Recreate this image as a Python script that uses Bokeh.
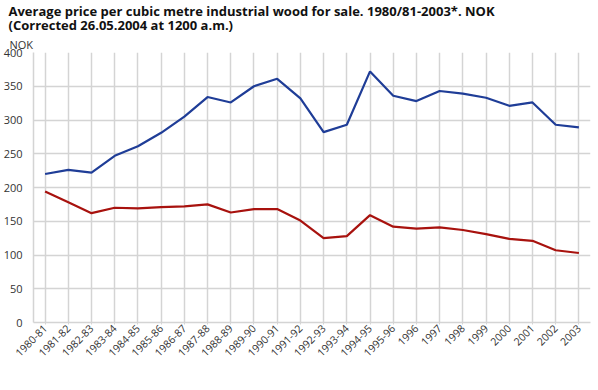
import math
from bokeh.plotting import figure
from bokeh.models import (Legend, LegendItem, FixedTicker, Title,
                          ColumnDataSource)
from bokeh.embed import file_html
from bokeh.resources import INLINE

periods = ["1980-81", "1981-82", "1982-83", "1983-84", "1984-85", "1985-86",
           "1986-87", "1987-88", "1988-89", "1989-90", "1990-91", "1991-92",
           "1992-93", "1993-94", "1994-95", "1995-96", "1996", "1997", "1998",
           "1999", "2000", "2001", "2002", "2003"]
current_prices = [220, 226, 222, 247, 261, 281, 305, 334, 326, 350, 361, 332,
                  282, 293, 372, 336, 328, 343, 339, 333, 321, 326, 293, 289]
price_1980 = [194, 178, 162, 170, 169, 171, 172, 175, 163, 168, 168, 151,
              125, 128, 159, 142, 139, 141, 137, 131, 124, 121, 107, 103]
y_ticks = [0, 50, 100, 150, 200, 250, 300, 350, 400]

FONT = "Open Sans"
GRID = "#d4d4d4"
TXT = "#333333"
BLUE = "#1f3d97"
RED = "#a8120e"

src = ColumnDataSource(dict(period=periods, cur=current_prices, real=price_1980))

p = figure(frame_width=557, frame_height=270, x_range=periods, y_range=(0, 400),
           output_backend="svg", toolbar_location=None,
           min_border_left=25, min_border_right=8, min_border_top=45,
           min_border_bottom=57)

p.title.text = ("Average price per cubic metre industrial wood for sale. 1980/81-2003*. NOK\n"
                "(Corrected 26.05.2004 at 1200 a.m.)")
p.title.text_font = FONT
p.title.text_font_size = "13px"
p.title.text_font_style = "bold"
p.title.text_color = "#111111"
p.title.align = "left"
p.title.offset = -25
p.title.standoff = 0
p.title.text_line_height = 0.8

p.add_layout(Title(text="NOK", text_font=FONT, text_font_size="11px",
                   text_font_style="normal", align="left", offset=-24,
                   standoff=1, text_color=TXT), "above")

p.outline_line_color = None
p.background_fill_color = "white"
p.border_fill_color = "white"

p.xgrid.grid_line_color = GRID
p.xgrid.grid_line_width = 1.5
p.ygrid.grid_line_color = GRID
p.ygrid.grid_line_width = 1.5

p.yaxis.ticker = FixedTicker(ticks=y_ticks)
p.yaxis.axis_line_color = GRID
p.yaxis.axis_line_width = 1.5
p.yaxis.major_tick_line_color = None
p.yaxis.minor_tick_line_color = None
p.yaxis.major_label_standoff = 5
p.yaxis.major_label_text_font = FONT
p.yaxis.major_label_text_font_size = "11px"
p.yaxis.major_label_text_color = TXT

p.xaxis.axis_line_color = GRID
p.xaxis.axis_line_width = 1.5
p.xaxis.major_tick_line_color = GRID
p.xaxis.major_tick_in = 0
p.xaxis.major_tick_out = 2
p.xaxis.major_label_orientation = math.pi / 4
p.xaxis.major_label_standoff = 2
p.xaxis.major_label_text_font = FONT
p.xaxis.major_label_text_font_size = "10.5px"
p.xaxis.major_label_text_color = TXT

r1 = p.line("period", "cur", source=src, line_color=BLUE, line_width=2.2)
r2 = p.line("period", "real", source=src, line_color=RED, line_width=2.2)

legend = Legend(items=[LegendItem(label="Current prices", renderers=[r1]),
                       LegendItem(label="1980-price value", renderers=[r2])],
                orientation="horizontal", location="center",
                border_line_color=None, background_fill_alpha=0,
                label_text_font=FONT, label_text_font_size="12px",
                label_text_color=TXT, glyph_width=37, glyph_height=12,
                label_height=12, label_standoff=10,
                spacing=40, padding=0, margin=0)
p.add_layout(legend, "below")

open("out.html", "w").write(file_html(p, INLINE))
